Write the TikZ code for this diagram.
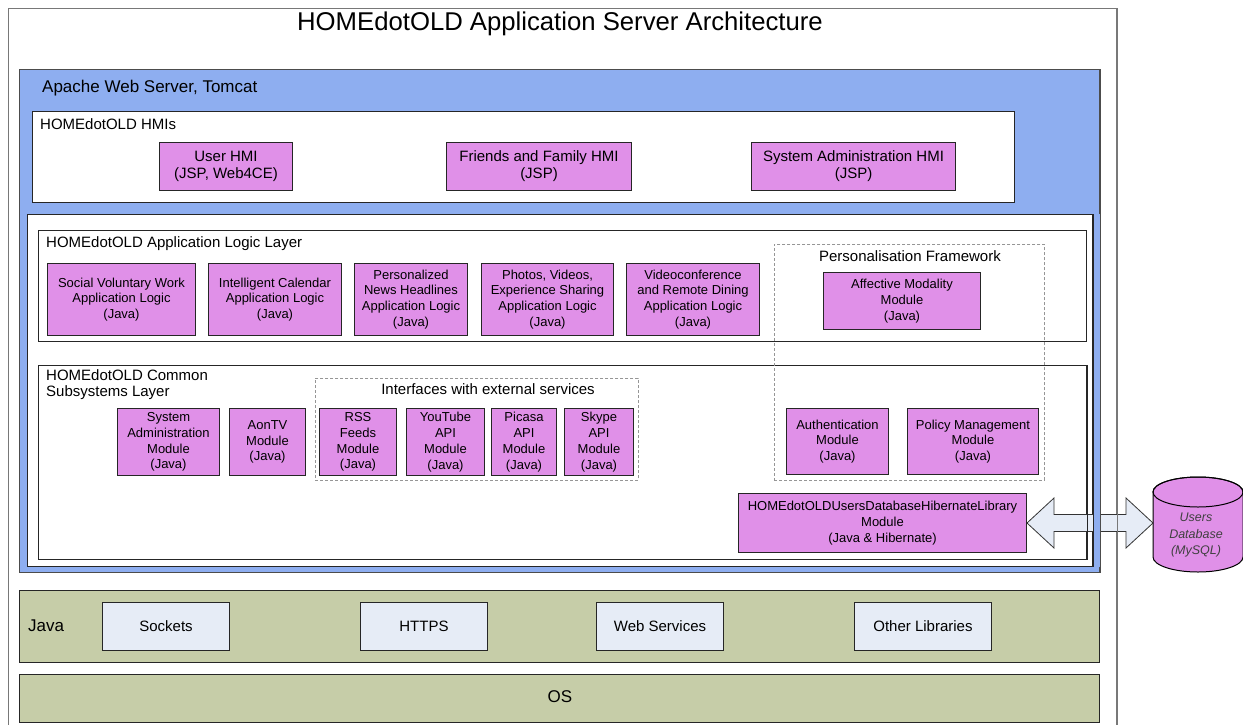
\documentclass[tikz,border=0pt]{standalone}
\usepackage{fontspec}
\setmainfont{Liberation Sans}
\usetikzlibrary{calc}
\definecolor{pinkmod}{RGB}{224,144,232}
\definecolor{apblue}{RGB}{142,174,240}
\definecolor{olivebg}{RGB}{198,205,168}
\definecolor{libbox}{RGB}{230,236,246}
\definecolor{dashgray}{RGB}{150,150,150}
\definecolor{framegray}{RGB}{120,120,120}
\tikzset{
  x=1pt, y=-1pt,
  box/.style={draw=black!85, line width=1pt, inner sep=0pt, anchor=north west},
  cont/.style={box, fill=white},
  mod/.style={box, fill=pinkmod, align=center, font=\fontsize{13}{15.8}\selectfont},
  hmi/.style={box, fill=pinkmod, align=center, font=\fontsize{15}{17}\selectfont},
  lib/.style={box, fill=libbox, align=center, font=\fontsize{15}{17}\selectfont},
  band/.style={box, fill=olivebg},
  lbl/.style={anchor=west, inner sep=0pt, font=\fontsize{15}{17}\selectfont},
  dashbox/.style={draw=dashgray, dash pattern=on 3pt off 2pt, line width=0.8pt, inner sep=0pt, anchor=north west},
  fatarrow/.style={draw=black!80, line width=0.8pt, fill=libbox},
}
\begin{document}
\begin{tikzpicture}
\useasboundingbox (0,0) rectangle (1243,724);
\fill[white] (0,0) rectangle (1243,724);
% outer frame
\node[draw=framegray, line width=1pt, inner sep=0pt, anchor=north west, minimum width=1108pt, minimum height=740pt] (frame) at (8,8) {};
\node[font=\fontsize{25.7}{30}\selectfont] (title) at (560,24) {HOMEdotOLD Application Server Architecture};
% Apache
\node[box, fill=apblue, draw=black!70, minimum width=1080pt, minimum height=503pt] (apache) at (19,69) {};
\node[lbl, font=\fontsize{17}{20}\selectfont] (apachelbl) at (42,88) {Apache Web Server, Tomcat};
% HMIs
\node[cont, minimum width=982pt, minimum height=91pt] (hmis) at (32,111) {};
\node[lbl] (hmislbl) at (40,124) {HOMEdotOLD HMIs};
\node[hmi, minimum width=133pt, minimum height=48pt] (userhmi) at (159,142) {User HMI\\(JSP, Web4CE)};
\node[hmi, minimum width=185pt, minimum height=48pt] (famhmi) at (446,142) {Friends and Family HMI\\(JSP)};
\node[hmi, minimum width=204pt, minimum height=48pt] (adminhmi) at (751,142) {System Administration HMI\\(JSP)};
% white container
\node[cont, minimum width=1065pt, minimum height=352pt] (white) at (27,214) {};
% application logic layer
\node[cont, minimum width=1048pt, minimum height=111pt] (applayer) at (38,230) {};
\node[lbl] (applbl) at (46,244) {HOMEdotOLD Application Logic Layer};
\node[mod, minimum width=148pt, minimum height=72pt] (svw) at (47,263) {Social Voluntary Work\\Application Logic\\(Java)};
\node[mod, minimum width=133pt, minimum height=72pt] (cal) at (208,263) {Intelligent Calendar\\Application Logic\\(Java)};
\node[mod, minimum width=113pt, minimum height=72pt] (news) at (354,263) {Personalized\\News Headlines\\Application Logic\\(Java)};
\node[mod, minimum width=132pt, minimum height=72pt] (photos) at (481,263) {Photos, Videos,\\Experience Sharing\\Application Logic\\(Java)};
\node[mod, minimum width=133pt, minimum height=72pt] (video) at (626,263) {Videoconference\\and Remote Dining\\Application Logic\\(Java)};
% common subsystems layer
\node[cont, minimum width=1048pt, minimum height=194pt] (common) at (38,365) {};
\node[anchor=north west, inner sep=0pt, align=left, font=\fontsize{15}{16}\selectfont] (commonlbl) at (46,369) {HOMEdotOLD Common\\Subsystems Layer};
\node[mod, minimum width=102pt, minimum height=67pt] (sysadm) at (117,408) {System\\Administration\\Module\\(Java)};
\node[mod, minimum width=76pt, minimum height=67pt] (aontv) at (229,408) {AonTV\\Module\\(Java)};
\node[dashbox, minimum width=323pt, minimum height=102pt] (ifaces) at (315,378) {};
\node[inner sep=0pt, font=\fontsize{15}{17}\selectfont] (ifaceslbl) at (488,389) {Interfaces with external services};
\node[mod, minimum width=77pt, minimum height=67pt] (rss) at (319,408) {RSS\\Feeds\\Module\\(Java)};
\node[mod, minimum width=78pt, minimum height=67pt] (youtube) at (406,408) {YouTube\\API\\Module\\(Java)};
\node[mod, minimum width=65pt, minimum height=67pt] (picasa) at (491,408) {Picasa\\API\\Module\\(Java)};
\node[mod, minimum width=69pt, minimum height=67pt] (skype) at (564,408) {Skype\\API\\Module\\(Java)};
\node[mod, minimum width=102pt, minimum height=66pt] (auth) at (786,408) {Authentication\\Module\\(Java)};
\node[mod, minimum width=131pt, minimum height=66pt] (policy) at (907,408) {Policy Management\\Module\\(Java)};
\node[mod, minimum width=288pt, minimum height=59pt] (hib) at (738,493) {HOMEdotOLDUsersDatabaseHibernateLibrary\\Module\\(Java \& Hibernate)};
% personalisation framework
\node[dashbox, minimum width=270pt, minimum height=236pt] (persfw) at (774,244) {};
\node[inner sep=0pt, font=\fontsize{15}{17}\selectfont] (persfwlbl) at (910,256) {Personalisation Framework};
\node[mod, minimum width=157pt, minimum height=57pt] (affect) at (823,272) {Affective Modality\\Module\\(Java)};
% Java band
\node[band, minimum width=1080pt, minimum height=72pt] (java) at (19,590) {};
\node[lbl, font=\fontsize{17}{20}\selectfont] (javalbl) at (28,626) {Java};
\node[lib, minimum width=127pt, minimum height=48pt] (sockets) at (102,602) {Sockets};
\node[lib, minimum width=127pt, minimum height=48pt] (https) at (360,602) {HTTPS};
\node[lib, minimum width=127pt, minimum height=48pt] (websvc) at (596,602) {Web Services};
\node[lib, minimum width=137pt, minimum height=48pt] (otherlib) at (854,602) {Other Libraries};
% OS band
\node[band, minimum width=1080pt, minimum height=48pt] (os) at (19,674) {};
\node[font=\fontsize{17}{20}\selectfont] (oslbl) at (560,697) {OS};
% database cylinder
\node[inner sep=0pt, anchor=north west, minimum width=90pt, minimum height=95pt] (db) at (1153,477) {};
\path[draw=black, line width=1pt, fill=pinkmod] (1153,492) -- (1153,557)
  arc[start angle=180, end angle=360, x radius=45pt, y radius=15pt] -- (1243,492)
  arc[start angle=0, end angle=180, x radius=45pt, y radius=15pt] -- cycle;
\draw[line width=1pt] (1198,492) ellipse[x radius=45pt, y radius=15pt];
\node[align=center, inner sep=0pt, font=\fontsize{12.5}{16.5}\selectfont\itshape, text=black!75] (dblbl) at (1196,535) {Users\\Database\\(MySQL)};
% double arrow
\coordinate (aL) at (hib.east);
\coordinate (aR) at (db.west |- hib.east);
\path[fatarrow] (aL) -- ($(aL)+(27,-25)$) -- ($(aL)+(27,-8.5)$) -- ($(aR)+(-27,-8.5)$) -- ($(aR)+(-27,-25)$)
  -- (aR) -- ($(aR)+(-27,25)$) -- ($(aR)+(-27,8.5)$) -- ($(aL)+(27,8.5)$) -- ($(aL)+(27,25)$) -- cycle;
% borders seen through the arrow shaft
\fill[apblue] (white.north east) rectangle (apache.east |- white.south);
\draw[black!85, line width=1pt] (common.north east) -- (common.south east);
\draw[black!85, line width=1pt] (white.north east) -- (white.south east);
\draw[black!70, line width=1pt] (apache.north east) -- (apache.south east);
\draw[framegray, line width=1pt] (frame.north east) -- (frame.south east);
\end{tikzpicture}
\end{document}
